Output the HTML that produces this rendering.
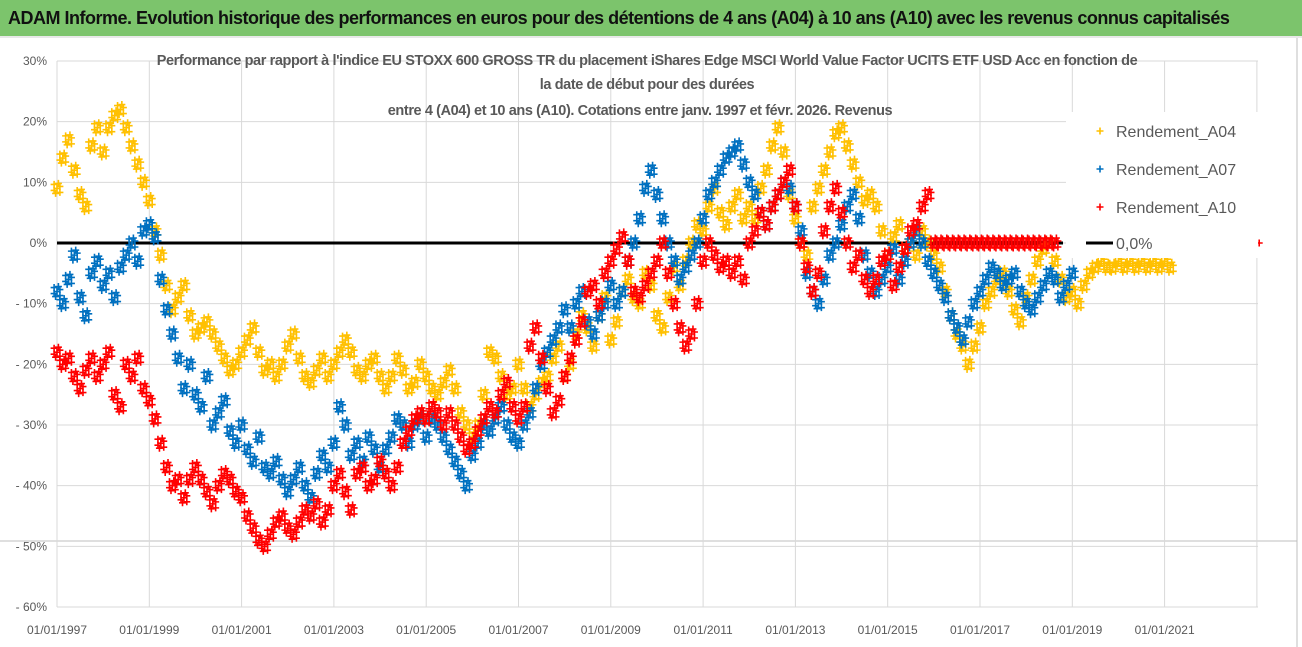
<!DOCTYPE html>
<html><head><meta charset="utf-8"><style>
body{margin:0;background:#fff;width:1302px;height:647px;overflow:hidden;font-family:"Liberation Sans",sans-serif}
#title{position:absolute;left:0;top:0;width:1302px;height:36px;background:#7cc46c;border-bottom:2px solid #e8e8e8;font-size:18px;font-weight:bold;color:#111;line-height:36px;text-indent:8px;letter-spacing:-0.5px;white-space:nowrap}
svg{position:absolute;left:0;top:0}
</style></head><body>
<div id="title">ADAM Informe. Evolution historique des performances en euros pour des détentions de 4 ans (A04) à 10 ans (A10) avec les revenus connus capitalisés</div>
<svg id="chart" width="1302" height="647"></svg>
<script>
const startYear = 1997;
const stepYear = 0.125;
const yTicks = [30,20,10,0,-10,-20,-30,-40,-50,-60];
const xTickYears = [1997,1999,2001,2003,2005,2007,2009,2011,2013,2015,2017,2019,2021];
const a04 = [9,14,17,12,8,6,16,19, 15,19,21,22,19,16,13,10, 7,2,-2,-7,-11,-9,-7,-12, -15,-14,-13,-15,-17,-19,-21,-20, -18,-16,-14,-18,-21,-20,-22,-20, -17,-15,-19,-22,-23,-21,-19,-22, -20,-18,-16,-18,-21,-22,-20,-19, -22,-24,-22,-19,-21,-24,-23,-20, -22,-24,-25,-23,-21,-24,-28,-30, -32,-30,-25,-18,-19,-22,-25,-24, -20,-24,-27,-25,-23,-22,-19,-17, -22,-20,-15,-12,-14,-17,-12,-9, -16,-13,-8,-6,-9,-10,-5,-7, -12,-14,-9,-4,-7,-3,0,3, 2,6,9,5,3,6,8,4, 6,4,9,12,16,19,15,8, 4,0,-2,6,9,12,15,18, 19,16,13,10,7,8,6,2, -2,1,3,-1,0,-2,2,0, -2,-4,-8,-12,-15,-17,-20,-17, -14,-10,-8,-6,-5,-8,-11,-13, -9,-6,-3,-1,0,-3,-6,-9, -8,-10,-7,-5,-4,-3,-4,-4, -3,-4,-3,-4,-3,-4,-3,-4, -3,-4];
const a07 = [-8,-10,-6,-2,-9,-12,-5,-3, -7,-5,-9,-4,-2,0,-3,2, 3,1,-6,-11,-15,-19,-24,-20, -25,-27,-22,-30,-28,-26,-31,-33, -30,-34,-36,-32,-37,-38,-36,-39, -41,-39,-37,-40,-42,-38,-35,-37, -33,-27,-30,-35,-33,-36,-32,-34, -37,-34,-32,-29,-30,-33,-30,-29, -32,-29,-30,-32,-34,-36,-38,-40, -35,-33,-30,-31,-29,-27,-30,-32, -33,-30,-28,-24,-20,-18,-16,-14, -11,-14,-10,-8,-13,-15,-12,-10, -7,-10,-8,-3,0,4,9,12, 8,4,0,-3,-6,-4,-2,0, 4,8,10,12,14,15,16,13, 10,8,5,3,6,8,10,9, 6,2,-5,-8,-10,-6,-2,0, 3,6,8,4,-2,-5,-8,-6, -4,-1,-6,-3,0,2,0,-3, -5,-7,-9,-12,-14,-16,-13,-10, -8,-6,-4,-5,-7,-6,-5,-8, -10,-11,-9,-7,-5,-6,-9,-7, -5];
const a10 = [-18,-20,-19,-22,-24,-21,-19,-22, -20,-18,-25,-27,-20,-22,-19,-24, -26,-29,-33,-37,-40,-39,-42,-39, -37,-39,-41,-43,-40,-38,-39,-41, -42,-45,-47,-49,-50,-48,-46,-45, -47,-48,-46,-44,-45,-43,-46,-44, -40,-38,-41,-44,-38,-37,-40,-39, -36,-38,-40,-37,-33,-31,-29,-28, -29,-27,-28,-30,-28,-30,-32,-34, -33,-31,-29,-27,-28,-25,-23,-27, -29,-27,-17,-14,-19,-24,-28,-26, -22,-19,-16,-13,-8,-7,-10,-5, -3,-1,1,-3,-8,-9,-7,-5, -3,0,-5,-10,-14,-17,-15,-10, -3,0,-2,-4,-3,-5,-3,-6, 0,2,5,3,6,8,10,12, 6,0,-4,-8,-5,2,6,9, 5,0,-4,-2,-6,-8,-6,-3, -2,-7,-4,-1,2,3,6,8, 0,0,0,0,0,0,0,0, 0,0,0,0,0,0,0,0, 0,0,0,0,0,0];
const a10ExtraYears = [2023.05];
const a10ExtraValues = [0];
const legendLabels = ['Rendement_A04','Rendement_A07','Rendement_A10','0,0%'];

const NS='http://www.w3.org/2000/svg';
const svg=document.getElementById('chart');
const X0=57,X1=1258,Y0=61,Y1=607;
function xs(yr){return X0+(yr-1997)*46.15;}
function ys(v){return Y0+(30-v)*(Y1-Y0)/90;}
function mk(tag,attrs,parent){const e=document.createElementNS(NS,tag);for(const k in attrs)e.setAttribute(k,attrs[k]);(parent||svg).appendChild(e);return e;}

const grid=mk('g',{});


yTicks.forEach(t=>{
  mk('line',{x1:X0,x2:X1,y1:ys(t),y2:ys(t),stroke:'#d9d9d9','stroke-width':1},grid);
  const tx=mk('text',{x:47,y:ys(t)+4,'text-anchor':'end','font-size':12,fill:'#595959'});
  
  
  tx.textContent=(t<0?'- '+(-t):t)+'%';
});
mk('line',{x1:0,x2:1297,y1:541,y2:541,stroke:'#bfbfbf','stroke-width':1},grid);
xTickYears.concat([2023]).forEach(yr=>{
  mk('line',{x1:xs(yr),x2:xs(yr),y1:Y0,y2:Y1,stroke:'#d9d9d9','stroke-width':1},grid);
});
xTickYears.forEach(yr=>{
  const tx=mk('text',{x:xs(yr),y:634,'text-anchor':'middle','font-size':12,fill:'#595959'});
  
  
  tx.textContent='01/01/'+yr;
});
mk('line',{x1:1297,x2:1297,y1:38,y2:647,stroke:'#bfbfbf'});

const titleLines=["Performance par rapport à l'indice EU STOXX 600 GROSS TR  du placement iShares Edge MSCI World Value Factor UCITS ETF USD Acc en fonction de","la date de début pour des durées","entre 4 (A04) et 10 ans (A10). Cotations entre janv. 1997 et févr. 2026. Revenus"];
const tg=mk('g',{});


[65,89,115].forEach((y,i)=>{const t=mk('text',{x:i==2?640:647,y:y,'text-anchor':'middle','font-size':14.5,'font-weight':'bold',fill:'#595959','letter-spacing':'-0.4'},tg);t.textContent=titleLines[i];});

const zl=mk('line',{x1:X0,x2:1063,y1:ys(0),y2:ys(0),stroke:'#000','stroke-width':3});



function plus(g,x,y,c){mk('path',{d:`M${x-3.5},${y}h7M${x},${y-3.5}v7`,stroke:c,'stroke-width':1.6},g);}
// marker glyph = small cluster of crosses (daily quotes are dense)
const cluster=[[0,0],[-2.9,-4],[2.9,4],[-1.4,5],[1.4,-5],[-2.9,2],[2.9,-2]];
function marker(g,x,y,c){cluster.forEach(o=>plus(g,x+o[0],y+o[1],c));}
function series(arr,color,name){
  const g=mk('g',{});
  
  
  arr.forEach((v,i)=>{marker(g,xs(startYear+i*stepYear),ys(v),color);});
  return g;
}
series(a04,'#ffc000','series-a04');
series(a07,'#0070c0','series-a07');
const g10=series(a10,'#ff0000','series-a10');
a10ExtraYears.forEach((yr,i)=>plus(g10,xs(yr),ys(a10ExtraValues[i]),'#ff0000'));

const lg=mk('g',{});


mk('rect',{x:1066,y:112,width:192,height:146,fill:'#fff'},lg);
const colors=['#ffc000','#0070c0','#ff0000','#000'];
[131,169,207,243].forEach((y,i)=>{
  const e=mk('g',{},lg);
  
  
  if(i<3) plus(e,1100,y,colors[i]); else mk('line',{x1:1086,x2:1113,y1:y,y2:y,stroke:'#000','stroke-width':3},e);
  const t=mk('text',{x:1116,y:y+6,'font-size':16,fill:'#595959'},e);t.textContent=legendLabels[i];
});
</script>
</body></html>
